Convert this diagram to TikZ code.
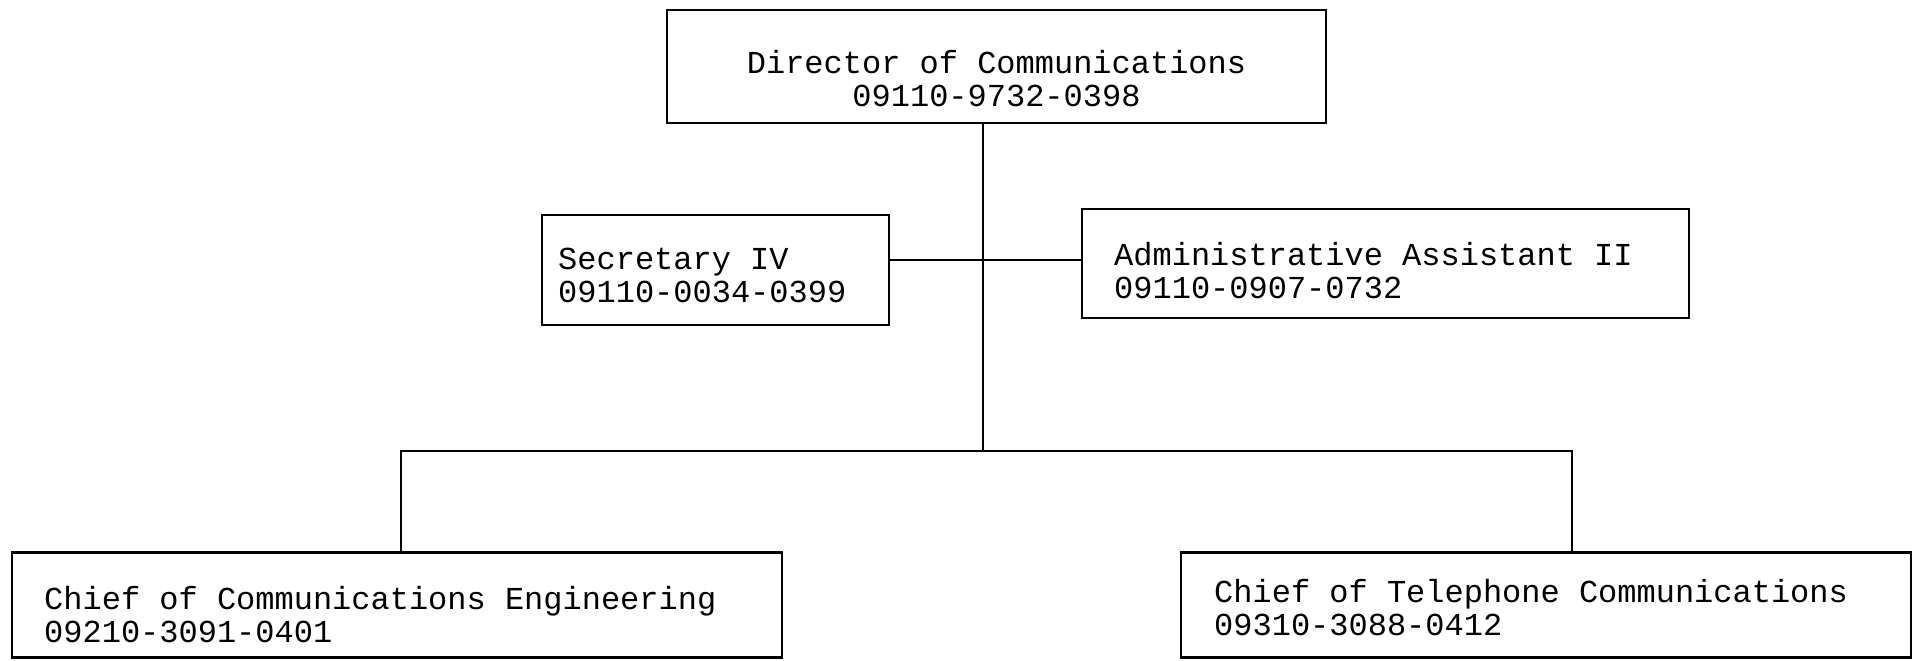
\documentclass[tikz,border=0pt]{standalone}
\usepackage{fontspec}
\setmonofont{Liberation Mono}[WordSpace={1,0,0}]
\begin{document}
\begin{tikzpicture}[x=0.5pt,y=-0.5pt,
  box/.style={draw, line width=1.2pt, rectangle, inner sep=0pt},
  txt/.style={inner sep=0pt, align=flush left,
    font=\ttfamily\fontsize{16}{16.5}\selectfont},
  wire/.style={line width=1.1pt}]
\useasboundingbox (0,0) rectangle (1915,660);
% boxes
\node[box, minimum width=329.5pt, minimum height=56.5pt] (dir) at (996.5,66.5) {};
\node[box, minimum width=173.5pt, minimum height=55pt] (sec) at (715.5,270) {};
\node[box, minimum width=303.5pt, minimum height=54.5pt] (adm) at (1385.5,263.5) {};
\node[box, minimum width=385pt, minimum height=52.5pt] (ce) at (397,605) {};
\node[box, minimum width=365pt, minimum height=52.5pt] (tc) at (1546,605) {};
% texts
\node[txt, align=center] (dirt) at ([yshift=-6pt]dir.center)
  {Director of Communications\\09110-9732-0398};
\node[txt, anchor=west] (sect) at ([xshift=8.5pt,yshift=-2.8pt]sec.west)
  {Secretary IV\\09110-0034-0399};
\node[txt, anchor=west] (admt) at ([xshift=16.5pt,yshift=-3.4pt]adm.west)
  {Administrative Assistant II\\09110-0907-0732};
\node[txt, anchor=west] (cet) at ([xshift=16.5pt,yshift=-5pt]ce.west)
  {Chief of Communications Engineering\\09210-3091-0401};
\node[txt, anchor=west] (tct) at ([xshift=17pt,yshift=-1.3pt]tc.west)
  {Chief of Telephone Communications\\09310-3088-0412};
% connectors
\coordinate (j1) at (983,260);
\coordinate (j2) at (983,451);
\coordinate (bl) at (401,451);
\coordinate (br) at (1572,451);
\draw[wire] (dir.south -| j1) -- (j2);
\draw[wire] (sec.east |- j1) -- (adm.west |- j1);
\draw[wire] (ce.north -| bl) -- (bl) -- (br) -- (tc.north -| br);
\end{tikzpicture}
\end{document}
